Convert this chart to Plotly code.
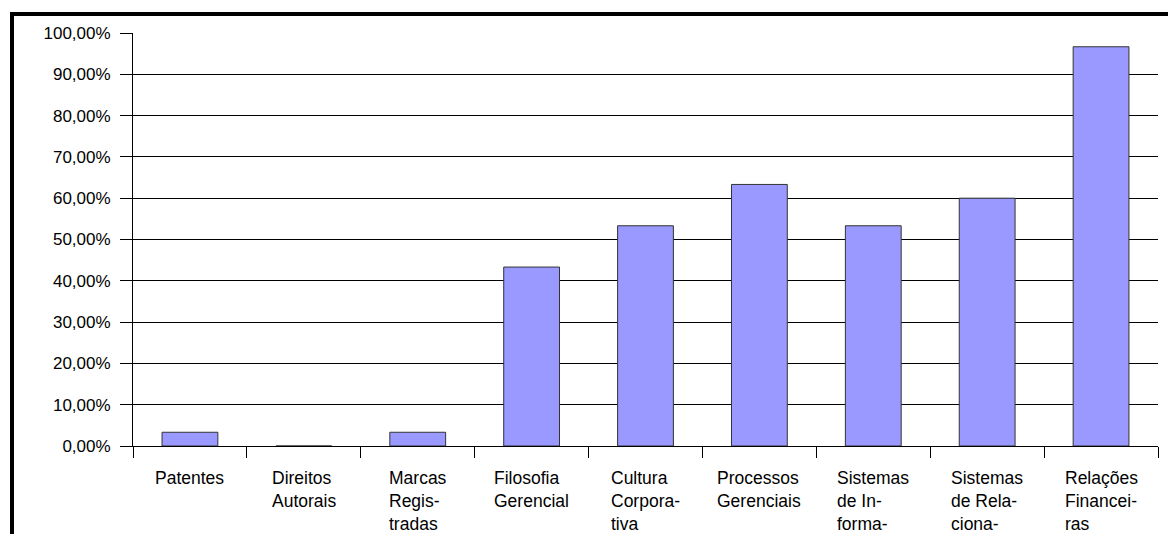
import plotly.graph_objects as go

# Categories (short keys) and their multi-line labels as shown under the axis
categories = [
    "Patentes", "Direitos Autorais", "Marcas Registradas", "Filosofia Gerencial",
    "Cultura Corporativa", "Processos Gerenciais", "Sistemas de Informação",
    "Sistemas de Relacionamento", "Relações Financeiras",
]
tick_labels = [
    "Patentes",
    "Direitos<br>Autorais",
    "Marcas<br>Regis-<br>tradas",
    "Filosofia<br>Gerencial",
    "Cultura<br>Corpora-<br>tiva",
    "Processos<br>Gerenciais",
    "Sistemas<br>de In-<br>forma-",
    "Sistemas<br>de Rela-<br>ciona-",
    "Relações<br>Financei-<br>ras",
]
# Share of respondents (fraction)
values = [0.0333, 0.0, 0.0333, 0.4333, 0.5333, 0.6333, 0.5333, 0.60, 0.9667]

W, H = 1168, 534
L, R, T, B = 133, 10, 33, 88
pw, ph = W - L - R, H - T - B

FONT = "Liberation Sans, Arial, sans-serif"

fig = go.Figure(
    go.Bar(
        x=categories,
        y=values,
        marker=dict(color="#9999FF", line=dict(color="#333333", width=1)),
        width=0.49,
    )
)

# Category labels, centred under each bar with lines left-aligned
for cat, lab in zip(categories, tick_labels):
    fig.add_annotation(
        x=cat, xref="x", y=-(466 - (T + ph)) / ph, yref="paper",
        text=lab, showarrow=False, xanchor="center", yanchor="top",
        align="left", font=dict(family=FONT, size=17.5, color="#000000"),
    )

# Heavy frame around the chart
fig.add_shape(
    type="rect", xref="paper", yref="paper",
    x0=(12 - L) / pw, x1=(W + 20 - L) / pw,
    y0=((T + ph) - (H + 30)) / ph, y1=((T + ph) - 14) / ph,
    line=dict(color="#000000", width=4), fillcolor="rgba(0,0,0,0)",
)

fig.update_layout(
    width=W, height=H,
    margin=dict(l=L, r=R, t=T, b=B, autoexpand=False),
    paper_bgcolor="#FFFFFF", plot_bgcolor="#FFFFFF",
    separators=",.",
    showlegend=False,
    font=dict(family=FONT, size=17, color="#000000"),
    xaxis=dict(
        type="category", tickson="boundaries", ticks="outside", ticklen=11,
        tickcolor="#000000", tickwidth=1, showticklabels=False,
        showgrid=False, showline=True, linecolor="#000000", linewidth=1,
        zeroline=False,
    ),
    yaxis=dict(
        range=[0, 1], dtick=0.1, tickformat=".2%",
        ticks="outside", ticklen=12, tickcolor="#000000", tickwidth=1,
        ticklabelstandoff=6,
        showgrid=True, gridcolor="#000000", gridwidth=1,
        showline=True, linecolor="#000000", linewidth=1,
        zeroline=False,
        tickfont=dict(family=FONT, size=17, color="#000000"),
    ),
)

fig.write_html("out.html")
